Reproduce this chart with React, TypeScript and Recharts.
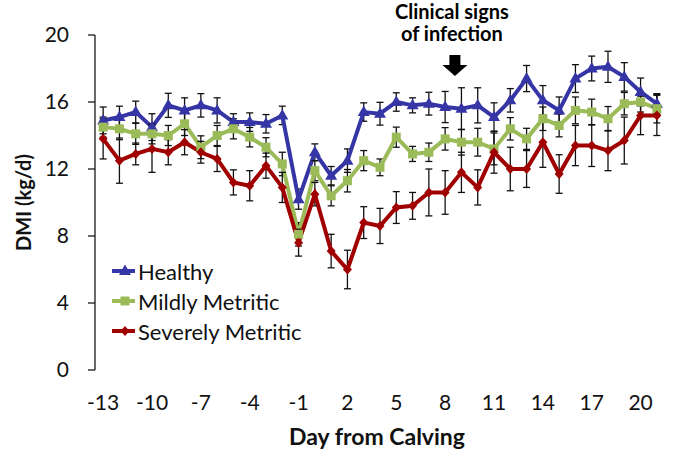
import React from "react";
import {
  LineChart,
  Line,
  XAxis,
  YAxis,
  ErrorBar,
  ReferenceDot,
  Legend,
} from "recharts";

// Day from calving, -13 .. 21
const DAYS = [
  -13, -12, -11, -10, -9, -8, -7, -6, -5, -4, -3, -2, -1, 0, 1, 2, 3, 4, 5, 6,
  7, 8, 9, 10, 11, 12, 13, 14, 15, 16, 17, 18, 19, 20, 21,
];

// DMI (kg/d) means
const HEALTHY = [
  14.9, 15.1, 15.4, 14.5, 15.8, 15.5, 15.8, 15.5, 14.8, 14.8, 14.7, 15.2, 10.2,
  13.0, 11.6, 12.5, 15.4, 15.3, 16.0, 15.8, 15.9, 15.7, 15.6, 15.8, 15.1, 16.1,
  17.4, 16.1, 15.5, 17.4, 18.0, 18.1, 17.5, 16.6, 15.9,
];
const MILD = [
  14.5, 14.4, 14.1, 14.1, 14.0, 14.7, 13.3, 14.0, 14.4, 13.9, 13.3, 12.3, 8.1,
  11.9, 10.4, 11.3, 12.5, 12.1, 13.9, 12.9, 13.0, 13.8, 13.6, 13.6, 13.2, 14.4,
  13.8, 15.0, 14.6, 15.5, 15.4, 15.0, 15.9, 16.0, 15.6,
];
const SEVERE = [
  13.8, 12.5, 12.9, 13.2, 13.0, 13.6, 13.0, 12.6, 11.2, 11.0, 12.2, 10.9, 7.6,
  10.5, 7.1, 6.0, 8.8, 8.6, 9.7, 9.8, 10.6, 10.6, 11.8, 10.9, 13.0, 12.0, 12.0,
  13.6, 11.7, 13.4, 13.4, 13.1, 13.7, 15.2, 15.2,
];

// standard errors
const HEALTHY_SE = [
  0.8, 0.65, 0.65, 0.8, 0.72, 0.75, 0.7, 0.75, 0.5, 0.55, 0.55, 0.55, 0.6, 0.5,
  0.55, 0.7, 0.55, 0.68, 0.55, 0.45, 0.68, 0.93, 1.25, 1.05, 0.85, 0.7, 0.78,
  0.88, 0.8, 0.83, 0.74, 0.93, 0.85, 0.83, 0.6,
];
const MILD_SE = [
  0.6, 0.65, 0.63, 0.6, 0.6, 0.7, 0.68, 0.6, 0.6, 0.58, 0.57, 0.7, 0.7, 0.6,
  0.6, 0.67, 0.6, 0.5, 0.6, 0.45, 0.55, 0.67, 0.77, 0.83, 0.95, 0.67, 0.63, 0.7,
  0.68, 0.8, 0.77, 0.73, 0.67, 0.6, 0.85,
];
const SEVERE_SE = [
  1.2, 1.35, 0.65, 1.4, 0.75, 0.75, 0.65, 0.75, 0.75, 0.9, 0.75, 0.9, 0.8, 0.7,
  1.0, 1.15, 0.95, 1.05, 0.95, 0.8, 1.4, 1.3, 1.2, 1.05, 1.25, 1.3, 1.1, 1.5,
  1.15, 1.2, 1.25, 1.2, 1.4, 1.15, 1.2,
];

const X_LABEL_TICKS = [-13, -10, -7, -4, -1, 2, 5, 8, 11, 14, 17, 20];
const X_BOUNDARY_TICKS = [...DAYS.map((d) => d - 0.5), 21.5];
const Y_TICKS = [0, 4, 8, 12, 16, 20];

const SERIES = [
  { key: "healthy", se: "healthySe", name: "Healthy", color: "#3535a5", shape: "triangle" },
  { key: "mild", se: "mildSe", name: "Mildly Metritic", color: "#9bbb59", shape: "square" },
  { key: "severe", se: "severeSe", name: "Severely Metritic", color: "#a00000", shape: "diamond" },
];

// infection onset marker (between day 8 and 9)
const ONSET_DAY = 8.6;
const ONSET_Y = 17.55;

const data = DAYS.map((day, i) => ({
  day,
  healthy: HEALTHY[i],
  mild: MILD[i],
  severe: SEVERE[i],
  healthySe: HEALTHY_SE[i],
  mildSe: MILD_SE[i],
  severeSe: SEVERE_SE[i],
}));

const FONT = "Lato, 'Open Sans', sans-serif";
const AXIS = "#1a1a1a";

function Marker({ shape, cx, cy, fill }: any) {
  if (cx == null || cy == null) return null;
  if (shape === "triangle") {
    return (
      <polygon
        points={`${cx},${cy - 6.5} ${cx + 6},${cy + 4} ${cx - 6},${cy + 4}`}
        fill={fill}
      />
    );
  }
  if (shape === "square") {
    return <rect x={cx - 4.5} y={cy - 4.5} width={9} height={9} fill={fill} />;
  }
  return (
    <polygon
      points={`${cx},${cy - 5} ${cx + 4.5},${cy} ${cx},${cy + 5} ${cx - 4.5},${cy}`}
      fill={fill}
    />
  );
}

function OnsetArrow({ cx, cy }: any) {
  if (cx == null || cy == null) return null;
  return (
    <g>
      <text
        x={cx - 3}
        y={cy - 57}
        textAnchor="middle"
        fontFamily={FONT}
        fontWeight={700}
        fontSize={20}
        fill="#000"
      >
        Clinical signs
      </text>
      <text
        x={cx - 3}
        y={cy - 35}
        textAnchor="middle"
        fontFamily={FONT}
        fontWeight={700}
        fontSize={20}
        fill="#000"
      >
        of infection
      </text>
      <polygon
        points={`${cx - 5.5},${cy - 21} ${cx + 5.5},${cy - 21} ${cx + 5.5},${cy - 11} ${cx + 12.5},${cy - 11} ${cx},${cy} ${cx - 12.5},${cy - 11} ${cx - 5.5},${cy - 11}`}
        fill="#000"
      />
    </g>
  );
}

function LegendBox() {
  return (
    <div style={{ fontFamily: FONT, fontSize: 22, color: "#111" }}>
      {SERIES.map((s) => (
        <div
          key={s.key}
          style={{ display: "flex", alignItems: "center", height: 30 }}
        >
          <svg width={26} height={14} style={{ marginRight: 2 }}>
            <line x1={2} y1={7} x2={25} y2={7} stroke={s.color} strokeWidth={4} />
            <Marker shape={s.shape} cx={15} cy={7} fill={s.color} />
          </svg>
          <span>{s.name}</span>
        </div>
      ))}
    </div>
  );
}

export default function App() {
  return (
    <div
      style={{
        position: "fixed",
        left: 0,
        top: 0,
        width: 679,
        height: 454,
        background: "#fff",
      }}
    >
      <LineChart
        width={679}
        height={454}
        data={data}
        margin={{ top: 35, right: 14, bottom: 34, left: 0 }}
      >
        <XAxis
          xAxisId="t"
          dataKey="day"
          type="number"
          domain={[-13.5, 21.5]}
          ticks={X_BOUNDARY_TICKS}
          tick={false}
          tickSize={5}
          height={0}
          axisLine={{ stroke: AXIS, strokeWidth: 1.3 }}
          tickLine={{ stroke: AXIS, strokeWidth: 1.3 }}
        />
        <XAxis
          xAxisId="x"
          dataKey="day"
          type="number"
          domain={[-13.5, 21.5]}
          ticks={X_LABEL_TICKS}
          interval={0}
          height={50}
          tickSize={6}
          tickMargin={19}
          axisLine={false}
          tickLine={false}
          tick={{ fontFamily: FONT, fontSize: 21, fill: "#111" }}
          label={{
            content: ({ viewBox }: any) => (
              <text
                x={viewBox.x + viewBox.width / 2 - 3}
                y={viewBox.y + 75}
                textAnchor="middle"
                fontFamily={FONT}
                fontWeight={700}
                fontSize={23}
                fill="#111"
              >
                Day from Calving
              </text>
            ),
          }}
        />
        <YAxis
          domain={[0, 20]}
          ticks={Y_TICKS}
          width={95}
          tickSize={7}
          tickMargin={19}
          axisLine={{ stroke: AXIS, strokeWidth: 1.3 }}
          tickLine={{ stroke: AXIS, strokeWidth: 1.3 }}
          tick={{ fontFamily: FONT, fontSize: 21, fill: "#111" }}
          label={{
            content: ({ viewBox }: any) => {
              const x = viewBox.x + 31;
              const y = viewBox.y + viewBox.height / 2;
              return (
                <text
                  x={x}
                  y={y}
                  transform={`rotate(-90 ${x} ${y})`}
                  textAnchor="middle"
                  fontFamily={FONT}
                  fontWeight={700}
                  fontSize={20}
                  fill="#111"
                >
                  DMI (kg/d)
                </text>
              );
            },
          }}
        />
        <Legend
          layout="vertical"
          align="center"
          verticalAlign="middle"
          content={() => <LegendBox />}
          wrapperStyle={{ position: "absolute", left: 110, top: 256, width: 280 }}
        />
        {SERIES.map((s) => (
          <Line
            key={s.key}
            xAxisId="x"
            dataKey={s.key}
            name={s.name}
            type="linear"
            stroke={s.color}
            strokeWidth={4}
            isAnimationActive={false}
            activeDot={false}
            dot={(p: any) => (
              <Marker key={`${s.key}-${p.index}`} shape={s.shape} cx={p.cx} cy={p.cy} fill={s.color} />
            )}
          >
            <ErrorBar
              dataKey={s.se}
              direction="y"
              width={3.5}
              stroke="#111"
              strokeWidth={1.3}
              isAnimationActive={false}
            />
          </Line>
        ))}
        <ReferenceDot
          xAxisId="x"
          x={ONSET_DAY}
          y={ONSET_Y}
          ifOverflow="visible"
          shape={(p: any) => <OnsetArrow cx={p.cx} cy={p.cy} />}
        />
      </LineChart>
    </div>
  );
}
